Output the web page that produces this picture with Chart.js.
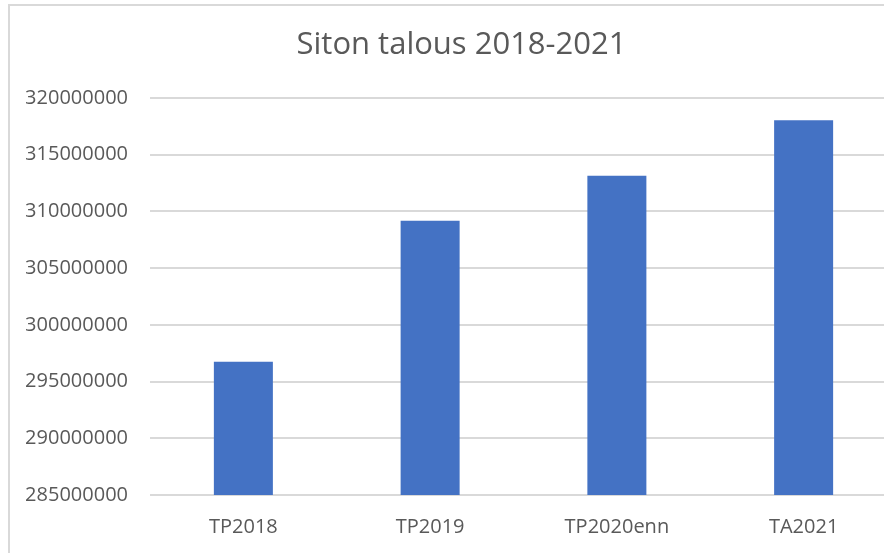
<!DOCTYPE html>
<html>
<head>
<meta charset="utf-8">
<script src="https://cdn.jsdelivr.net/npm/chart.js@4.4.1/dist/chart.umd.min.js"></script>
<style>
  html, body { margin: 0; padding: 0; width: 884px; height: 553px; overflow: hidden; background: #ffffff; }
  #frame { position: absolute; left: 8px; top: 4px; width: 1000px; height: 1000px;
           border-left: 2px solid #d9d9d9; border-top: 2px solid #d9d9d9; }
  #c { position: absolute; left: 0; top: 0; }
</style>
</head>
<body>
<div id="frame"></div>
<canvas id="c" width="897" height="553"></canvas>
<script>
const titleText = 'Siton talous 2018-2021';
const categories = ['TP2018', 'TP2019', 'TP2020enn', 'TA2021'];
const values = [296750000, 309180000, 313150000, 318030000];
const yTickValues = [285000000, 290000000, 295000000, 300000000, 305000000, 310000000, 315000000, 320000000];

const textColor = '#595959';
const fontFamily = '"Open Sans", "Liberation Sans", sans-serif';

new Chart(document.getElementById('c'), {
  type: 'bar',
  data: {
    labels: categories,
    datasets: [{
      label: titleText,
      data: values,
      backgroundColor: '#4472C4',
      borderWidth: 0,
      categoryPercentage: 1,
      barPercentage: 0.316
    }]
  },
  options: {
    responsive: false,
    animation: false,
    layout: { padding: { left: 26, right: 0, top: 0, bottom: 0 } },
    plugins: {
      legend: { display: false },
      tooltip: { enabled: false },
      title: {
        display: true,
        text: titleText,
        color: textColor,
        font: { family: fontFamily, size: 31, weight: 'normal', lineHeight: 1.2 },
        padding: { top: 27, bottom: 33.8 }
      }
    },
    scales: {
      x: {
        grid: { display: false, drawTicks: false },
        border: { display: false },
        ticks: {
          color: textColor,
          font: { family: fontFamily, size: 20 },
          padding: 20,
          maxRotation: 0
        },
        afterFit: (s) => { s.height = 58; }
      },
      y: {
        min: yTickValues[0],
        max: yTickValues[yTickValues.length - 1],
        afterBuildTicks: (s) => { s.ticks = yTickValues.map(v => ({ value: v })); },
        grid: { color: '#d9d9d9', lineWidth: 2, drawTicks: false },
        border: { display: false },
        ticks: {
          color: textColor,
          font: { family: fontFamily, size: 20 },
          padding: 22,
          callback: (v) => String(v)
        },
        afterFit: (s) => { s.width = 124; }
      }
    }
  }
});
</script>
</body>
</html>
